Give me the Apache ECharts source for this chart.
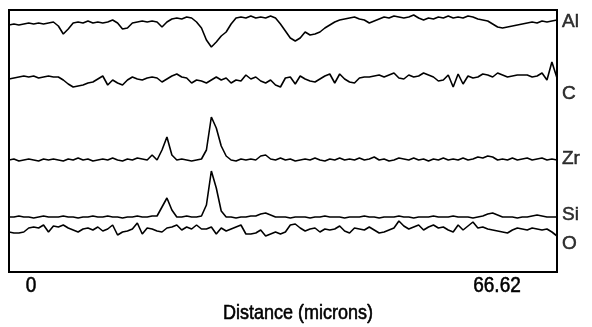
<!DOCTYPE html>
<html>
<head>
<meta charset="utf-8">
<title>Line scan</title>
<script src="https://cdn.jsdelivr.net/npm/echarts@6/dist/echarts.min.js"></script>
<style>
  html, body { margin: 0; padding: 0; background: #fff; }
  #chart { width: 592px; height: 327px; }
</style>
</head>
<body>
<div id="chart"></div>
<script>
// ── Data (distance in microns, intensity in arbitrary offset units) ──
var distance = [
  0, 0.6, 1.2, 1.8, 2.4, 3.0, 3.6, 4.2, 4.8, 5.4,
  6.0, 6.6, 7.2, 7.8, 8.4, 9.0, 9.6, 10.2, 10.8, 11.4,
  12.0, 12.6, 13.2, 13.8, 14.4, 15.0, 15.6, 16.2, 16.8, 17.4,
  18.0, 18.6, 19.2, 19.8, 20.4, 21.0, 21.6, 22.2, 22.8, 23.4,
  24.0, 24.6, 25.2, 25.8, 26.4, 27.0, 27.6, 28.2, 28.8, 29.4,
  30.0, 30.6, 31.2, 31.8, 32.4, 33.0, 33.6, 34.2, 34.8, 35.4,
  36.0, 36.6, 37.2, 37.8, 38.4, 39.0, 39.6, 40.2, 40.8, 41.4,
  42.0, 42.6, 43.2, 43.8, 44.4, 45.0, 45.6, 46.2, 46.8, 47.4,
  48.0, 48.6, 49.2, 49.8, 50.4, 51.0, 51.6, 52.2, 52.8, 53.4,
  54.0, 54.6, 55.2, 55.8, 56.4, 57.0, 57.6, 58.2, 58.8, 59.4,
  60.0, 60.6, 61.2, 61.8, 62.4, 63.0, 63.6, 64.2, 64.8, 65.4,
  66.0, 66.62
];

var alValues = [
  247, 248, 247, 248, 249, 248, 249, 248, 249, 250,
  246, 238, 243, 249, 250, 249, 251, 249, 250, 249,
  250, 252, 249, 243, 244, 249, 250, 251, 250, 251,
  250, 245, 250, 253, 254, 253, 255, 254, 250, 244,
  232, 225, 230, 236, 240, 248, 254, 255, 254, 256,
  254, 255, 254, 256, 254, 248, 241, 234, 231, 234,
  240, 237, 238, 240, 244, 247, 250, 252, 253, 254,
  255, 253, 252, 249, 251, 253, 255, 254, 256, 255,
  254, 255, 257, 254, 252, 254, 253, 255, 254, 256,
  254, 255, 254, 256, 255, 253, 252, 251, 248, 245,
  244, 245, 246, 247, 248, 249, 250, 249, 251, 250,
  251, 252
];

var cValues = [
  193, 194, 195, 196, 195, 196, 194, 195, 196, 195,
  195, 192, 188, 185, 186, 187, 189, 190, 193, 196,
  187, 192, 189, 187, 192, 195, 193, 192, 194, 195,
  194, 190, 193, 196, 198, 195, 194, 189, 192, 191,
  189, 192, 195, 192, 194, 189, 192, 191, 197, 193,
  195, 191, 189, 192, 187, 185, 194, 195, 188, 196,
  193, 191, 190, 193, 196, 198, 189, 198, 193, 190,
  189, 194, 195, 195, 196, 197, 195, 197, 199, 194,
  193, 197, 195, 196, 199, 197, 195, 191, 192, 197,
  185, 198, 188, 196, 194, 195, 198, 197, 195, 199,
  197, 195, 196, 197, 197, 197, 195, 196, 199, 192,
  210, 194
];

var zrValues = [
  112, 113, 111, 112, 113, 112, 111, 113, 112, 113,
  112, 111, 113, 112, 114, 112, 113, 111, 112, 113,
  112, 114, 112, 111, 113, 112, 114, 113, 112, 117,
  112, 122, 135, 117, 112, 113, 112, 111, 112, 113,
  122, 155, 144, 126, 116, 112, 111, 113, 112, 113,
  112, 116, 117, 113, 112, 114, 112, 113, 111, 112,
  113, 112, 114, 112, 111, 113, 112, 114, 112, 113,
  112, 114, 112, 113, 115, 112, 113, 111, 112, 114,
  113, 112, 114, 112, 113, 111, 113, 112, 114, 112,
  113, 112, 114, 112, 113, 115, 114, 116, 115, 112,
  113, 112, 114, 112, 113, 114, 112, 113, 114, 112,
  113, 112
];

var siValues = [
  55, 55, 56, 55, 55, 54, 55, 56, 55, 55,
  55, 56, 55, 55, 54, 55, 55, 56, 55, 55,
  56, 55, 55, 54, 55, 55, 56, 55, 55, 56,
  56, 65, 74, 62, 55, 55, 56, 55, 55, 56,
  67, 101, 84, 61, 55, 55, 54, 55, 55, 56,
  56, 58, 59, 57, 55, 55, 55, 54, 55, 55,
  55, 54, 55, 55, 56, 55, 55, 55, 54, 55,
  55, 55, 56, 55, 55, 54, 55, 55, 55, 56,
  55, 55, 54, 55, 55, 55, 56, 55, 55, 55,
  56, 55, 55, 55, 54, 55, 56, 58, 59, 57,
  55, 55, 55, 54, 55, 55, 56, 57, 56, 55,
  55, 55
];

var oValues = [
  40, 39, 39, 40, 44, 45, 44, 47, 40, 46,
  45, 47, 44, 42, 40, 43, 44, 42, 45, 41,
  43, 47, 37, 40, 41, 43, 49, 38, 44, 43,
  41, 40, 44, 45, 47, 42, 45, 43, 47, 43,
  43, 45, 38, 44, 41, 43, 45, 47, 38, 38,
  39, 42, 36, 38, 40, 38, 40, 47, 48, 44,
  41, 43, 44, 40, 43, 42, 43, 46, 41, 39,
  44, 43, 42, 45, 42, 39, 40, 42, 44, 51,
  46, 43, 45, 47, 42, 45, 47, 44, 45, 42,
  40, 47, 42, 46, 50, 44, 45, 43, 42, 41,
  40, 39, 42, 44, 43, 42, 44, 43, 42, 43,
  40, 36
];

var elements    = ['Al', 'C', 'Zr', 'Si', 'O'];
var labelLevels = [250, 178, 113, 57, 28];   // where each element name sits on the right
var xTickLabels = ['0', '66.62'];
var xAxisName   = 'Distance (microns)';

(function () {
    'use strict';

    var FONT = '"Liberation Sans", Arial, Helvetica, sans-serif';
    var traces = [alValues, cValues, zrValues, siValues, oValues];

    function pairs(values) {
        return values.map(function (v, i) { return [distance[i], v]; });
    }

    var lineSeries = traces.map(function (vals, k) {
        return {
            name: elements[k],
            type: 'line',
            data: pairs(vals),
            showSymbol: false,
            lineStyle: { color: '#000', width: 1.6 },
            silent: true,
            animation: false
        };
    });

    var labelSeries = {
        type: 'scatter',
        data: elements.map(function (name, k) {
            return { name: name, value: [distance[distance.length - 1], labelLevels[k]] };
        }),
        symbolSize: 0,
        clip: false,
        silent: true,
        animation: false,
        label: {
            show: true,
            position: 'right',
            distance: 5,
            formatter: '{b}',
            color: '#000',
            fontFamily: FONT,
            fontSize: 19,
            textBorderColor: '#000',
            textBorderWidth: 0.5
        }
    };

    // scanned-print look: text slightly taller and heavier
    function caption(text, x, y, size) {
        return {
            type: 'text', x: x, y: y, scaleY: 1.12,
            style: {
                text: text, fontFamily: FONT, fontSize: size, fill: '#000',
                stroke: '#000', lineWidth: 0.5,
                align: 'center', verticalAlign: 'middle'
            }
        };
    }

    var chart = echarts.init(document.getElementById('chart'), null, { renderer: 'canvas' });

    chart.setOption({
        backgroundColor: '#fff',
        animation: false,
        grid: {
            left: 9, right: 35, top: 10, bottom: 55,
            show: true,
            borderColor: '#000',
            borderWidth: 2,
            backgroundColor: 'transparent'
        },
        xAxis: {
            type: 'value',
            min: 0,
            max: 66.62,
            axisLine: { show: false },
            axisTick: { show: false },
            axisLabel: { show: false },
            splitLine: { show: false }
        },
        yAxis: {
            type: 'value',
            min: 0,
            max: 262,
            axisLine: { show: false },
            axisTick: { show: false },
            axisLabel: { show: false },
            splitLine: { show: false }
        },
        graphic: [
            caption(xTickLabels[0], 31, 286, 19),
            caption(xTickLabels[1], 497, 286, 19),
            caption(xAxisName, 298, 313, 18)
        ],
        series: lineSeries.concat([labelSeries])
    });
})();
</script>
</body>
</html>
